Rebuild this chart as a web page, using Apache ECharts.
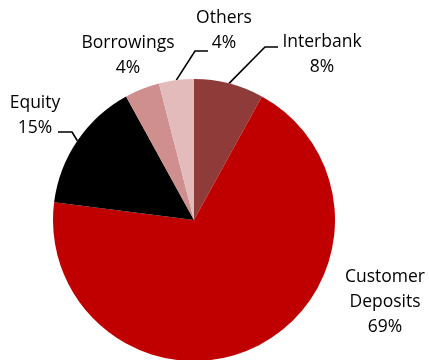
<!DOCTYPE html>
<html>
<head>
<meta charset="utf-8">
<script src="https://cdn.jsdelivr.net/npm/echarts@6/dist/echarts.min.js"></script>
<style>html,body{margin:0;padding:0;background:#fff}#c{width:429px;height:360px}</style>
</head>
<body>
<div id="c"></div>
<script>
// ---- data ----
const categories = ['Interbank', 'Customer\nDeposits', 'Equity', 'Borrowings', 'Others'];
const shares = [8, 69, 15, 4, 4];

// ---- styling / layout ----
const colors = ['#8E3B3A', '#C00000', '#000000', '#CF8F8E', '#E2BBBA'];
const CX = 194, CY = 220, R = 141;
// label centre and leader elbow/end points (layout only)
const labelPos = [
  {x: 322, y: 55, line: [[265, 47], [278, 47]]},
  {x: 385, y: 302, line: null},
  {x: 35, y: 116, line: [[72, 132], [58, 132]]},
  {x: 128, y: 56, line: null},
  {x: 224, y: 31, line: [[195, 51], [208, 51]]}
];

const total = shares.reduce((a, b) => a + b, 0);
function edgePoint(i) {
  let cum = 0;
  for (let k = 0; k < i; k++) cum += shares[k];
  const frac = (cum + shares[i] / 2) / total;
  const a = frac * Math.PI * 2;
  return [CX + R * Math.sin(a), CY - R * Math.cos(a)];
}

const chart = echarts.init(document.getElementById('c'), null, {renderer: 'canvas'});
chart.setOption({
  animation: false,
  series: [{
    type: 'pie',
    center: [CX, CY],
    radius: R,
    startAngle: 90,
    clockwise: true,
    avoidLabelOverlap: false,
    data: categories.map((n, i) => ({
      name: n,
      value: shares[i],
      itemStyle: {color: colors[i]},
      labelLine: {show: !!labelPos[i].line}
    })),
    itemStyle: {borderWidth: 0},
    label: {
      show: true,
      position: 'outside',
      formatter: '{b}\n{d}%',
      fontFamily: 'Open Sans',
      fontSize: 17.5,
      lineHeight: 25,
      color: '#000',
      align: 'center',
      overflow: 'none',
      width: 200
    },
    labelLine: {
      show: true,
      lineStyle: {color: '#000', width: 1.6}
    },
    labelLayout: function (params) {
      const p = labelPos[params.dataIndex];
      const out = {x: p.x, y: p.y, align: 'center', verticalAlign: 'middle'};
      if (p.line) out.labelLinePoints = [edgePoint(params.dataIndex), p.line[0], p.line[1]];
      return out;
    }
  }]
});
</script>
</body>
</html>
